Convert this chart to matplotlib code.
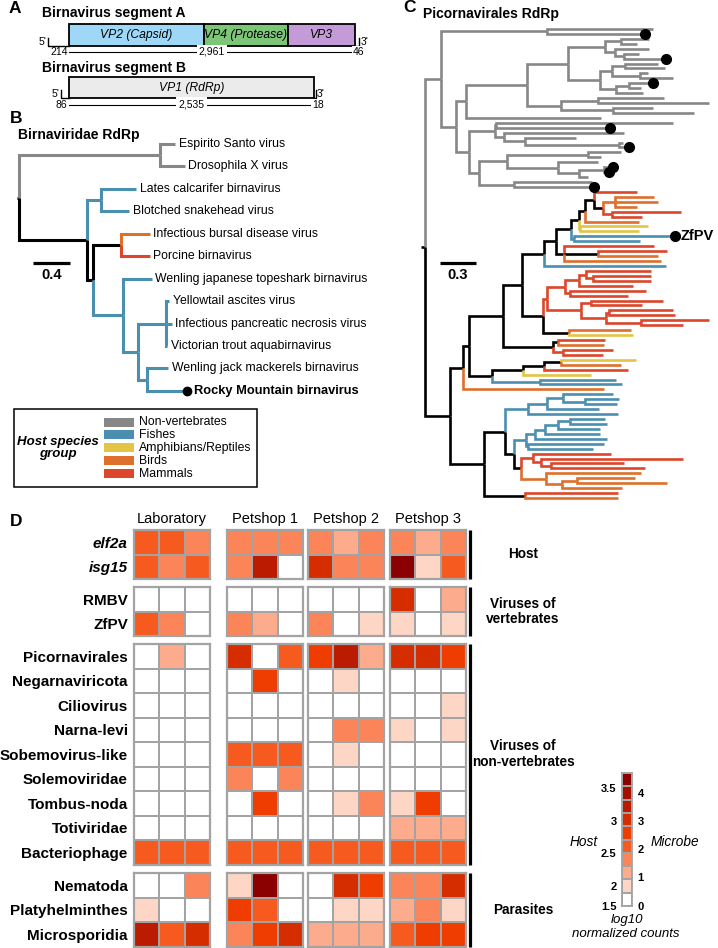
import matplotlib
matplotlib.use('Agg')
import matplotlib.pyplot as plt
import numpy as np
from matplotlib.colors import ListedColormap
from matplotlib.patches import Rectangle

plt.rcParams['font.family'] = ['Liberation Sans', 'DejaVu Sans']

W, H = 718, 948

# ---------------- panel A: genome segments (nt)
SEG_A_UTR = [214, 46]
SEG_A_ORF = 2961
SEG_A_PROTEINS = ['VP2 (Capsid)', 'VP4 (Protease)', 'VP3']
SEG_A_BOUNDS = [0, 1397, 2267, 2961]
SEG_A_COLORS = ['#9fd7f6', '#7dc677', '#c49bd8']
SEG_B_UTR = [86, 18]
SEG_B_ORF = 2535
SEG_B_PROTEINS = ['VP1 (RdRp)']
SEG_B_BOUNDS = [0, 2535]
SEG_B_COLORS = ['#ebebeb']

# ---------------- host groups
HOST_GROUPS = ['Non-vertebrates', 'Fishes', 'Amphibians/Reptiles', 'Birds', 'Mammals']
HOST_CODES = ['n', 'f', 'a', 'b', 'm']
HOST_COLORS = ['#878787', '#4a8fb0', '#e3c445', '#de6f2c', '#dc462b']

# ---------------- trees (newick, subs/site); tip = group[*][=label]
BIRNA_TREE = (
    "((n=Espirito Santo virus:0.17,n=Drosophila X virus:0.27):1.52,"
    "((f=Lates calcarifer birnavirus:0.38,f=Blotched snakehead virus:0.30):0.15,"
    "((b=Infectious bursal disease virus:0.31,m=Porcine birnavirus:0.31):0.30,"
    "(f=Wenling japanese topeshark birnavirus:0.31,"
    "((f=Yellowtail ascites virus:0.04,f=Infectious pancreatic necrosis virus:0.065,"
    "f=Victorian trout aquabirnavirus:0.02):0.30,"
    "(f=Wenling jack mackerels birnavirus:0.23,f*=Rocky Mountain birnavirus:0.43):0.10)"
    ":0.16):0.32):0.065):0.74):0.02;")

PICORNA_NONVERT = (
    "((n:0.88,n*:0.81):0.89,"
    "((((((n:0.24,n:0.14):0.13,(n:0.29,(n:0.12,n*:0.35):0.08):0.08):0.31,"
    "(((n:0.27,n:0.33):0.11,(n:0.07,n:0.28):0.23):0.10,((n*:0.20,n:0.10):0.11,n:0.23):0.13):0.27):0.34,"
    "((n:0.55,n:0.93):0.31,(n:0.33,n:0.67):0.44):0.28):0.51,n:1.13):0.08,"
    "(((n:1.48,n*:0.95):0.01,(n:1.00,(n:0.43,(n:0.03,n*:0.08):0.79):0.17):0.08):0.21,"
    "(((n:0.27,n:0.11):0.68,(n:0.33,((n*:0.08,n*:0.04):0.21,n:0.08):0.17):0.43):0.23,"
    "(n:0.65,n*:0.67):0.29):0.08):0.11):0.13):0.13")
PICORNA_MAMMAL_A = "(((m:0.54,(m:0.48,m:0.48):0.06):0.06,m:0.45):0.11,(m:0.63,m:0.48):0.04):0.15"
PICORNA_MAMMAL_B = "((m:0.60,m:0.43):0.08,((m:0.54,m:0.55):0.02,(m:0.57,m:0.35):0.29):0.21):0.28"
PICORNA_UPPER = (
    "((((((((((m:0.36,((b:0.33,b:0.36,b:0.19):0.10,(m:0.57,m:0.25):0.08):0.07):0.08,b:0.45):0.05,"
    "(a:0.57,a:0.49):0.01):0.06,(f*=ZfPV:0.84,f:0.55):0.02):0.13,"
    "(m:0.75,(m:0.58,b:0.50):0.28,b:0.81):0.07):0.10,f:1.02):0.18,"
    "((" + PICORNA_MAMMAL_A + "," + PICORNA_MAMMAL_B + "):0.04,(b:0.52,a:0.53):0.22):0.17):0.16,"
    "((m:0.39,b:0.38):0.04,(m:0.42,m:0.33):0.08):0.42):0.28,"
    "((((a:0.63,b:0.50):0.14,m:0.70):0.17,a:0.56):0.26,(f:0.63,f:0.68):0.40):0.19):0.05,"
    "b:1.17):0.11")
PICORNA_LOWER = (
    "(((((f:0.42,(f:0.29,f:0.27):0.18):0.13,f:0.43):0.16,f:0.75):0.19,"
    "((((((f:0.29,f:0.31):0.10,f:0.35):0.11,f:0.46):0.08,f:0.60):0.08,(f:0.63,f:0.54):0.02):0.10,"
    "((m:0.65,(m:1.18,(m:0.61,m:0.78):0.08):0.07):0.10,"
    "(b:0.79,((b:0.48,b:0.75):0.13,b:0.50):0.13):0.21):0.06):0.07):0.18,"
    "(m:0.78,b:0.78):0.34):0.28")
PICORNA_TREE = "(" + PICORNA_NONVERT + ",(" + PICORNA_UPPER + "," + PICORNA_LOWER + "):0.21):0.03;"

# ---------------- panel D heatmap (colour level 0-9)
SITES = ['Laboratory', 'Petshop 1', 'Petshop 2', 'Petshop 3']
GROUP_NAMES = ['Host', 'Viruses of\nvertebrates', 'Viruses of\nnon-vertebrates', 'Parasites']
HOST_ROWS = ['elf2a', 'isg15']
HOST_LEVELS = [[4, 4, 3, 3, 3, 3, 3, 2, 3, 3, 2, 3],
               [4, 3, 4, 3, 7, 0, 6, 3, 3, 9, 1, 4]]
VERT_ROWS = ['RMBV', 'ZfPV']
VERT_LEVELS = [[0, 0, 0, 0, 0, 0, 0, 0, 0, 6, 0, 2],
               [4, 3, 0, 3, 2, 0, 3, 0, 1, 1, 0, 1]]
NONVERT_ROWS = ['Picornavirales', 'Negarnaviricota', 'Ciliovirus', 'Narna-levi',
                'Sobemovirus-like', 'Solemoviridae', 'Tombus-noda', 'Totiviridae', 'Bacteriophage']
NONVERT_LEVELS = [[0, 2, 0, 6, 0, 4, 5, 7, 2, 6, 6, 5],
                  [0, 0, 0, 0, 5, 0, 0, 1, 0, 0, 0, 0],
                  [0, 0, 0, 0, 0, 0, 0, 0, 0, 0, 0, 1],
                  [0, 0, 0, 0, 0, 0, 0, 3, 3, 1, 0, 1],
                  [0, 0, 0, 4, 4, 4, 0, 1, 0, 0, 0, 0],
                  [0, 0, 0, 3, 0, 3, 0, 0, 0, 0, 0, 0],
                  [0, 0, 0, 0, 5, 0, 0, 1, 3, 1, 5, 0],
                  [0, 0, 0, 0, 0, 0, 0, 0, 0, 2, 2, 2],
                  [4, 4, 4, 4, 4, 4, 4, 4, 4, 4, 4, 4]]
PARASITE_ROWS = ['Nematoda', 'Platyhelminthes', 'Microsporidia']
PARASITE_LEVELS = [[0, 0, 3, 1, 9, 0, 0, 6, 5, 3, 3, 6],
                   [1, 0, 0, 5, 4, 0, 0, 1, 1, 2, 3, 1],
                   [7, 4, 6, 3, 5, 6, 2, 2, 2, 4, 5, 5]]
LEVEL_COLORS = ['#ffffff', '#fdd6c5', '#fcab8c', '#fb8459', '#f65a1e',
                '#ef3c00', '#d52c00', '#bb1b00', '#a40f00', '#8b0000']
CB_HOST_TICKS = [1.5, 2, 2.5, 3, 3.5]
CB_HOST_POS = [0, 1.5, 4.0, 6.4, 8.9]
CB_MICROBE_TICKS = [0, 1, 2, 3, 4]
CB_MICROBE_POS = [0, 2.2, 4.3, 6.4, 8.5]

GROUP_COLOR = dict(zip(HOST_CODES, HOST_COLORS))
GRID = '#a3a3a3'


def parse_newick(s):
    s = s.strip().rstrip(';')
    pos = 0

    def node():
        nonlocal pos
        kids = []
        if s[pos] == '(':
            pos += 1
            kids.append(node())
            while s[pos] == ',':
                pos += 1
                kids.append(node())
            pos += 1
        start = pos
        while pos < len(s) and s[pos] not in ',():':
            pos += 1
        name = s[start:pos].strip()
        length = 0.0
        if pos < len(s) and s[pos] == ':':
            pos += 1
            start = pos
            while pos < len(s) and s[pos] not in ',()':
                pos += 1
            length = float(s[start:pos])
        return {'name': name, 'len': length, 'kids': kids}
    return node()


def layout(root):
    leaves = []

    def walk(nd, x):
        nd['x'] = x
        if nd['kids']:
            for k in nd['kids']:
                walk(k, x + k['len'])
            nd['y'] = (nd['kids'][0]['y'] + nd['kids'][-1]['y']) / 2
            grps = {k['grp'] for k in nd['kids']}
            nd['grp'] = grps.pop() if len(grps) == 1 else None
        else:
            code, _, label = nd['name'].partition('=')
            nd['y'] = len(leaves)
            nd['grp'] = code[0]
            nd['star'] = '*' in code
            nd['label'] = label
            leaves.append(nd)
    walk(root, 0.0)
    return leaves


def draw_tree(ax, newick, lw, dot_ms, lab_size, star_size, star_off):
    root = parse_newick(newick)
    leaves = layout(root)
    col = lambda nd: GROUP_COLOR.get(nd['grp'], 'black')
    ax.plot([-root['len'], 0], [root['y']] * 2, color=col(root), lw=lw, solid_capstyle='butt')

    def walk(nd):
        for k in nd['kids']:
            ax.plot([nd['x'], nd['x'], k['x']], [nd['y'], k['y'], k['y']], color=col(k), lw=lw,
                    solid_capstyle='butt', solid_joinstyle='miter')
            walk(k)
    walk(root)
    for lf in leaves:
        if lf['star']:
            ax.plot(lf['x'], lf['y'], 'o', color='black', ms=dot_ms, zorder=5)
        if lf['label']:
            if lf['star']:
                ax.annotate(lf['label'], (lf['x'], lf['y']), xytext=(star_off, 0), textcoords='offset points',
                            va='center', fontsize=star_size, fontweight='bold')
            else:
                ax.annotate(lf['label'], (lf['x'], lf['y']), xytext=(2.5, 0), textcoords='offset points',
                            va='center', fontsize=lab_size)


fig = plt.figure(figsize=(W / 100, H / 100), dpi=100)


def px_axes(x0, y0, x1, y1):
    return fig.add_axes([x0 / W, 1 - y1 / H, (x1 - x0) / W, (y1 - y0) / H])


ov = px_axes(0, 0, W, H)
ov.set_xlim(0, W)
ov.set_ylim(H, 0)
ov.axis('off')

# panel letters / titles
for letter, x, y in [('A', 15, 8), ('B', 16, 118), ('C', 409, 7), ('D', 16, 521)]:
    ov.text(x, y, letter, ha='center', va='center', fontsize=12.5, fontweight='bold')
ov.text(42, 13, 'Birnavirus segment A', va='center', fontsize=10, fontweight='bold')
ov.text(42, 68, 'Birnavirus segment B', va='center', fontsize=10, fontweight='bold')
ov.text(18, 135, 'Birnaviridae RdRp', va='center', fontsize=10, fontweight='bold')
ov.text(423, 14, 'Picornavirales RdRp', va='center', fontsize=10, fontweight='bold')

# ---------------- panel A
axA = px_axes(0, 0, 380, 115)
px_nt = 0.0966
axA.set_xlim(-69 / px_nt, (380 - 69) / px_nt)
axA.set_ylim(115, 0)
axA.axis('off')


def draw_segment(ax, utr, orf, names, bounds, colors, top, bot, num_y):
    for name, b0, b1, c in zip(names, bounds[:-1], bounds[1:], colors):
        ax.add_patch(Rectangle((b0, top), b1 - b0, bot - top, fc=c, ec='black', lw=1.3))
        ax.text((b0 + b1) / 2, (top + bot) / 2, name, ha='center', va='center', style='italic', fontsize=8.7)
    ax.plot([-utr[0], -utr[0], 0], [bot - 8, bot, bot], color='black', lw=1)
    ax.plot([orf, orf + utr[1], orf + utr[1]], [bot, bot, bot - 8], color='black', lw=1)
    ax.annotate("5'", (-utr[0], bot - 4), xytext=(-1, 0), textcoords='offset points',
                ha='right', va='center', fontsize=7.5)
    ax.annotate("3'", (orf + utr[1], bot - 4), xytext=(1, 0), textcoords='offset points',
                ha='left', va='center', fontsize=7.5)
    ax.plot([0, orf], [num_y] * 2, color='black', lw=0.8)
    ax.annotate(str(utr[0]), (0, num_y), xytext=(-1, 0), textcoords='offset points',
                ha='right', va='center', fontsize=7.5)
    ax.text(orf / 2, num_y, f'{orf:,}', ha='center', va='center', fontsize=7.5,
            bbox=dict(fc='white', ec='none', pad=1.5))
    ax.annotate(str(utr[1]), (orf, num_y), xytext=(-1.5, 0), textcoords='offset points',
                ha='left', va='center', fontsize=7.5, bbox=dict(fc='white', ec='none', pad=0.5))


draw_segment(axA, SEG_A_UTR, SEG_A_ORF, SEG_A_PROTEINS, SEG_A_BOUNDS, SEG_A_COLORS, 24, 46, 52)
draw_segment(axA, SEG_B_UTR, SEG_B_ORF, SEG_B_PROTEINS, SEG_B_BOUNDS, SEG_B_COLORS, 77, 98, 104.5)

# ---------------- panel B tree
axB = px_axes(0, 120, 380, 400)
b_scale, b_y0, b_dy = 92.5, 144, 22.45
axB.set_xlim(-19 / b_scale, (380 - 19) / b_scale)
axB.set_ylim((400 - b_y0) / b_dy, (120 - b_y0) / b_dy)
axB.axis('off')
draw_tree(axB, BIRNA_TREE, 2.2, 6, 8.8, 9.3, 5)
sb_x, sb_y = (33 - 19) / b_scale, (263 - b_y0) / b_dy
axB.plot([sb_x, sb_x + 0.4], [sb_y, sb_y], color='black', lw=2.3, solid_capstyle='butt')
axB.text(sb_x + 0.2, sb_y + 0.55, '0.4', ha='center', va='center', fontsize=10.5, fontweight='bold')

# legend
ov.add_patch(Rectangle((14, 409), 243, 78, fc='none', ec='black', lw=1.1))
ov.text(58, 448, 'Host species\ngroup', ha='center', va='center', fontsize=9.5,
        fontweight='bold', style='italic', linespacing=1.05)
for i, (name, c) in enumerate(zip(HOST_GROUPS, HOST_COLORS)):
    yc = 422 + i * 12.9
    ov.add_patch(Rectangle((104, yc - 4.5), 30, 9, fc=c, ec='none'))
    ov.text(139, yc, name, va='center', fontsize=8.8)

# ---------------- panel C tree
axC = px_axes(395, 20, 718, 505)
c_scale, c_y0, c_dy = 120.0, 29, (498 - 29) / 95
axC.set_xlim((395 - 425) / c_scale, (718 - 425) / c_scale)
axC.set_ylim((505 - c_y0) / c_dy, (20 - c_y0) / c_dy)
axC.axis('off')
draw_tree(axC, PICORNA_TREE, 1.9, 7, 8.8, 10.5, 4.5)
sc_x, sc_y = (440 - 425) / c_scale, (263 - c_y0) / c_dy
axC.plot([sc_x, sc_x + 0.3], [sc_y, sc_y], color='black', lw=2.3, solid_capstyle='butt')
axC.text(sc_x + 0.15, sc_y + 2.4, '0.3', ha='center', va='center', fontsize=10.5, fontweight='bold')

# ---------------- panel D heatmap
cmap = ListedColormap(LEVEL_COLORS)
SITE_X0 = [134, 227, 308, 390]
GROUP_Y0 = [530, 587, 644, 873]
BLOCK_W, ROW_H = 76, 24.5
row_sets = [HOST_ROWS, VERT_ROWS, NONVERT_ROWS, PARASITE_ROWS]
level_sets = [HOST_LEVELS, VERT_LEVELS, NONVERT_LEVELS, PARASITE_LEVELS]

for s, site in enumerate(SITES):
    ov.text(SITE_X0[s] + BLOCK_W / 2, 519, site, ha='center', va='center', fontsize=10.5)

for g, (rows, levels) in enumerate(zip(row_sets, level_sets)):
    arr = np.array(levels)
    y0 = GROUP_Y0[g]
    y1 = y0 + len(rows) * ROW_H
    for s in range(len(SITES)):
        ax = px_axes(SITE_X0[s], y0, SITE_X0[s] + BLOCK_W, y1)
        ax.pcolormesh(arr[:, 3 * s:3 * s + 3], cmap=cmap, vmin=-0.5, vmax=9.5,
                      edgecolors=GRID, linewidth=1.3)
        ax.set_xlim(0, 3)
        ax.set_ylim(len(rows), 0)
        ax.set_xticks([])
        for sp in ax.spines.values():
            sp.set_color(GRID)
            sp.set_linewidth(1.6)
        if s == 0:
            ax.set_yticks(np.arange(len(rows)) + 0.5)
            ax.set_yticklabels(rows, fontsize=11, fontweight='bold')
            if g == 0:
                for t in ax.get_yticklabels():
                    t.set_fontstyle('italic')
            ax.tick_params(length=0, pad=4.5)
        else:
            ax.set_yticks([])
    ov.plot([470, 470], [y0, y1], color='black', lw=2.3, solid_capstyle='butt')
    ov.text(523, (y0 + y1) / 2, GROUP_NAMES[g], ha='center', va='center', fontsize=9.8,
            fontweight='bold', linespacing=1.15)

# colour bar
cb = px_axes(622, 773, 632, 906)
cb.pcolormesh(np.arange(10).reshape(-1, 1), cmap=cmap, vmin=-0.5, vmax=9.5, edgecolors=GRID, linewidth=1.2)
cb.set_xlim(0, 1)
cb.set_ylim(0, 10)
cb.set_xticks([])
cb.set_yticks(CB_HOST_POS, [f'{v:g}' for v in CB_HOST_TICKS], fontsize=8, fontweight='bold')
cb.tick_params(length=0, pad=4)
for sp in cb.spines.values():
    sp.set_color(GRID)
    sp.set_linewidth(1.3)
cbr = cb.twinx()
cbr.set_ylim(0, 10)
cbr.set_yticks(CB_MICROBE_POS, [str(v) for v in CB_MICROBE_TICKS], fontsize=8, fontweight='bold')
cbr.tick_params(length=0, pad=4)
for sp in cbr.spines.values():
    sp.set_visible(False)
ov.text(584, 842, 'Host', ha='center', va='center', fontsize=9.8, style='italic')
ov.text(675, 842, 'Microbe', ha='center', va='center', fontsize=9.8, style='italic')
ov.text(627, 920, 'log10', ha='center', va='center', fontsize=9.5, style='italic')
ov.text(626, 934, 'normalized counts', ha='center', va='center', fontsize=9.5, style='italic')

fig.savefig('out.png', dpi=100)
